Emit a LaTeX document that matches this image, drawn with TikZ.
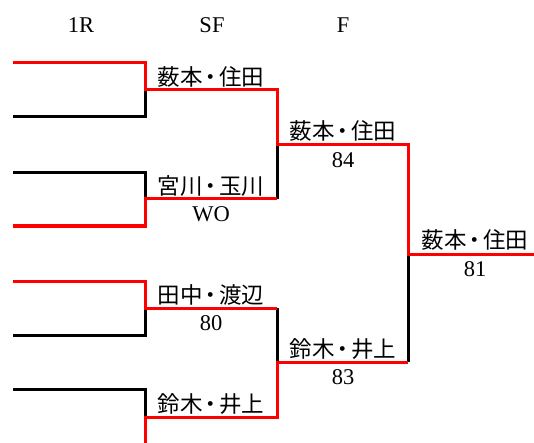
\documentclass[tikz,border=0pt]{standalone}
\usepackage{fontspec}
\setmainfont{Liberation Serif}
\newfontfamily\jp{Noto Sans CJK JP}
\newcommand{\md}{\hspace{-0.13em}・\hspace{-0.13em}}
\begin{document}
\begin{tikzpicture}[x=1pt,y=-1pt,
  win/.style={draw=red,line width=3pt,line join=miter},
  lose/.style={draw=black,line width=3pt,line join=miter},
  pname/.style={anchor=south,inner sep=0pt,font=\fontsize{22.5}{24}\selectfont\jp},
  pscore/.style={anchor=north,inner sep=0pt,font=\fontsize{22.5}{24}\selectfont},
  phead/.style={anchor=base,inner sep=0pt,font=\fontsize{22.5}{24}\selectfont}]
\useasboundingbox (0,0) rectangle (534,443);
% columns
\def\xa{13}\def\xb{145}\def\xc{277}\def\xd{408}\def\xe{534}
% 1R entries
\coordinate (e1) at (\xa,63);  \coordinate (e1b) at (\xb,63);
\coordinate (e2) at (\xa,117); \coordinate (e2b) at (\xb,117);
\coordinate (e3) at (\xa,173); \coordinate (e3b) at (\xb,173);
\coordinate (e4) at (\xa,226); \coordinate (e4b) at (\xb,226);
\coordinate (e5) at (\xa,281); \coordinate (e5b) at (\xb,281);
\coordinate (e6) at (\xa,335); \coordinate (e6b) at (\xb,335);
\coordinate (e7) at (\xa,389); \coordinate (e7b) at (\xb,389);
\coordinate (e8b) at (\xb,443);
% SF
\coordinate (s1) at (\xb,90);  \coordinate (s1b) at (\xc,90);
\coordinate (s2) at (\xb,199); \coordinate (s2b) at (\xc,199);
\coordinate (s3) at (\xb,308); \coordinate (s3b) at (\xc,308);
\coordinate (s4) at (\xb,417); \coordinate (s4b) at (\xc,417);
% F
\coordinate (f1) at (\xc,145); \coordinate (f1b) at (\xd,145);
\coordinate (f2) at (\xc,362); \coordinate (f2b) at (\xd,362);
% champion
\coordinate (w) at (\xd,254); \coordinate (wb) at (\xe,254);
% losing paths
\draw[lose] (e2) -- (e2b) -- (s1);
\draw[lose] (e3) -- (e3b) -- (s2);
\draw[lose] (e6) -- (e6b) -- (s3);
\draw[lose] (e7) -- (e7b) -- (s4);
\draw[lose] (s2b) -- (f1);
\draw[lose] (s3b) -- (f2);
\draw[lose] (f2b) -- (w);
% winning paths
\draw[win] (e1) -- (e1b) -- (s1) -- (s1b) -- (f1) -- (f1b) -- (w) -- (wb);
\draw[win] (e4) -- (e4b) -- (s2) -- (s2b);
\draw[win] (e5) -- (e5b) -- (s3) -- (s3b);
\draw[win] (e8b) -- (s4) -- (s4b) -- (f2) -- (f2b);
% headers
\node[phead] (h1) at (81,33) {1R};
\node[phead] (h2) at (212,33) {SF};
\node[phead] (h3) at (343,33) {F};
% SF labels
\node[pname] (n1) at (211,87.5) {薮本\md 住田};
\node[pname] (n2) at (211,196.5) {宮川\md 玉川};
\node[pscore] (c2) at (211,206.5) {WO};
\node[pname] (n3) at (211,305.5) {田中\md 渡辺};
\node[pscore] (c3) at (211,315.5) {80};
\node[pname] (n4) at (211,414.5) {鈴木\md 井上};
% F labels
\node[pname] (n5) at (343,142) {薮本\md 住田};
\node[pscore] (c5) at (343,152.5) {84};
\node[pname] (n6) at (343,359.5) {鈴木\md 井上};
\node[pscore] (c6) at (343,369.5) {83};
% champion
\node[pname] (n7) at (475,251) {薮本\md 住田};
\node[pscore] (c7) at (475,261.5) {81};
\end{tikzpicture}
\end{document}
